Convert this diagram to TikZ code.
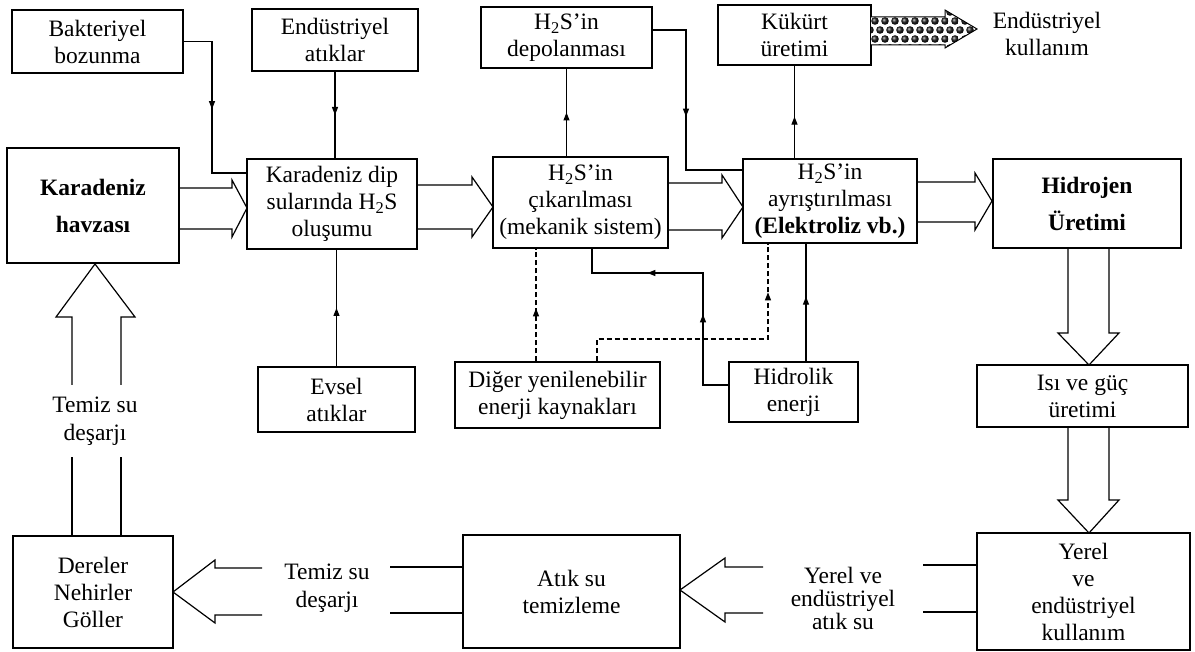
\documentclass[tikz,border=0pt]{standalone}
\usepackage{fontspec}
\setmainfont{Liberation Serif}
\usetikzlibrary{arrows.meta,decorations.markings,calc}
\newcommand\tf{\fontsize{23.5}{27}\selectfont}
\tikzset{
 box/.style={draw, line width=1.3pt, inner sep=0pt, align=center, font=\tf},
 lbl/.style={inner sep=0pt, align=center, font=\tf},
 ln/.style={line width=1.2pt},
 blk/.style={line width=1.2pt, line join=miter},
 dsh/.style={line width=1.2pt, dash pattern=on 5pt off 3pt},
 tip/.tip={Triangle[length=8pt,width=6pt]},
 marrow/.style={postaction={decorate, decoration={markings, mark=at position #1 with {\arrow{tip}}}}},
}
\begin{document}
\begin{tikzpicture}[x=1pt,y=-1pt]
\useasboundingbox (0,0) rectangle (1195,652);
% boxes
\node[box, minimum width=171pt, minimum height=63pt] (bak) at (97.5,41.5) {Bakteriyel\\bozunma};
\node[box, minimum width=166pt, minimum height=62pt] (end) at (335,40) {Endüstriyel\\atıklar};
\node[box, minimum width=171pt, minimum height=61pt] (depo) at (566.5,37.5) {H\textsubscript{2}S’in\\depolanması};
\node[box, minimum width=153pt, minimum height=60pt] (kuk) at (794.5,35) {Kükürt\\üretimi};
\node[box, minimum width=172pt, minimum height=115pt] (hav) at (93,205.5) {\bfseries Karadeniz\\[10pt]\bfseries havzası};
\node[box, minimum width=170pt, minimum height=90pt] (dip) at (332,204) {Karadeniz dip\\sularında H\textsubscript{2}S\\oluşumu};
\node[box, minimum width=175pt, minimum height=91pt] (cik) at (580.5,202.5) {H\textsubscript{2}S’in\\çıkarılması\\(mekanik sistem)};
\node[box, minimum width=174pt, minimum height=84pt] (ayr) at (830,201) {H\textsubscript{2}S’in\\ayrıştırılması\\\textbf{(Elektroliz vb.)}};
\node[box, minimum width=188pt, minimum height=89pt] (hid) at (1087,203.5) {\bfseries Hidrojen\\[10pt]\bfseries Üretimi};
\node[box, minimum width=205pt, minimum height=66pt] (dig) at (557.5,395) {Diğer yenilenebilir\\enerji kaynakları};
\node[box, minimum width=129pt, minimum height=60pt] (hyd) at (793.5,392) {Hidrolik\\enerji};
\node[box, minimum width=157pt, minimum height=65pt] (evs) at (336.5,399.5) {Evsel\\atıklar};
\node[box, minimum width=211pt, minimum height=62pt] (isi) at (1082.5,396) {Isı ve güç\\üretimi};
\node[box, minimum width=213pt, minimum height=117pt] (yer) at (1083.5,591.5) {Yerel\\ve\\endüstriyel\\kullanım};
\node[box, minimum width=160pt, minimum height=112pt] (der) at (93,592) {Dereler\\Nehirler\\Göller};
\node[box, minimum width=217pt, minimum height=113pt] (atk) at (571.5,591.5) {Atık su\\temizleme};
% labels
\node[lbl, font=\fontsize{23.5}{28}\selectfont] (tsv) at (95,421) {Temiz su\\deşarjı};
\node[lbl, font=\fontsize{23.5}{28}\selectfont] (tsh) at (327,588) {Temiz su\\deşarjı};
\node[lbl, font=\fontsize{23.5}{23}\selectfont] (yas) at (843,598) {Yerel ve\\endüstriyel\\atık su};
\node[lbl] (eku) at (1047,34) {Endüstriyel\\kullanım};
% solid connectors
\coordinate (c1) at (212,173);
\draw[ln, marrow=96pt] (bak.east) -| (c1) -- (c1 -| dip.west);
\draw[ln, marrow=0.5] (end.south) -- (end.south |- dip.north);
\draw[ln, marrow=0.5] (evs.north) -- (evs.north |- dip.south);
\draw[ln, marrow=0.5] (depo.south |- cik.north) -- (depo.south);
\coordinate (c2) at (686,170);
\draw[ln, marrow=120pt] (depo.east |- 0,30) -| (c2) -- (c2 -| ayr.west);
\draw[ln, marrow=0.45] (kuk.south |- ayr.north) -- (kuk.south);
\coordinate (c3) at (703,273);
\coordinate (c4) at (592,273);
\draw[ln, postaction={decorate, decoration={markings,
   mark=at position 96pt with {\arrow{tip}},
   mark=at position 193pt with {\arrow{tip}}}}]
   (hyd.west |- 0,385) -| (c3) -- (c4) -- (c4 |- cik.south);
\coordinate (c5) at (806,0);
\draw[ln, marrow=0.55] (hyd.north -| c5) -- (ayr.south -| c5);
% dashed connectors
\coordinate (c6) at (536,0);
\draw[dsh, marrow=0.47] (dig.north -| c6) -- (cik.south -| c6);
\coordinate (c7) at (597,339);
\coordinate (c8) at (768,339);
\draw[dsh, marrow=240pt] (dig.north -| c7) -- (c7) -- (c8) -- (c8 |- ayr.south);
% hollow block arrows (top row)
\draw[blk] (179,188) -- (232,188) -- (232,180) -- (247,208) -- (232,237) -- (232,229) -- (179,229);
\draw[blk] (417,185) -- (472,185) -- (472,177) -- (493,207) -- (472,237) -- (472,229) -- (417,229);
\draw[blk] (668,183) -- (722,183) -- (722,175) -- (743,207) -- (722,238) -- (722,230) -- (668,230);
\draw[blk] (917,182) -- (975,182) -- (975,173) -- (992,201) -- (975,230) -- (975,222) -- (917,222);
% right column
\draw[blk] (1068,248) -- (1068,333) -- (1058,333) -- (1089,365) -- (1119,333) -- (1109,333) -- (1109,248);
\draw[blk] (1068,427) -- (1068,500) -- (1058,500) -- (1089,533) -- (1119,500) -- (1109,500) -- (1109,427);
% bottom row
\draw[blk] (977,565) -- (923,565);
\draw[blk] (977,612) -- (923,612);
\draw[blk] (763,567) -- (725,567) -- (725,558) -- (680,590) -- (725,622) -- (725,613) -- (763,613);
\draw[blk] (463,567) -- (390,567);
\draw[blk] (463,613) -- (390,613);
\draw[blk] (262,568) -- (215,568) -- (215,560) -- (173,592) -- (215,623) -- (215,615) -- (262,615);
% left column
\draw[blk] (72,536) -- (72,457);
\draw[blk] (121,536) -- (121,457);
\draw[blk] (72,385) -- (72,317) -- (56,317) -- (95,264) -- (135,317) -- (121,317) -- (121,385);
% patterned arrow
\begin{scope}
\clip (871,17) -- (945,17) -- (945,10) -- (977,29) -- (945,48) -- (945,45) -- (871,45) -- cycle;
\fill[white] (860,0) rectangle (990,60);
\foreach \i in {0,...,11} {
  \foreach \j in {0,...,4} {
    \shade[ball color=black!90] ({870+\i*10+mod(\j,2)*5}, {12+\j*9}) circle (3.8);
  }
}
\end{scope}
\draw[line width=1pt] (871,17) -- (945,17) -- (945,10) -- (977,29) -- (945,48) -- (945,45) -- (871,45);
\end{tikzpicture}
\end{document}
